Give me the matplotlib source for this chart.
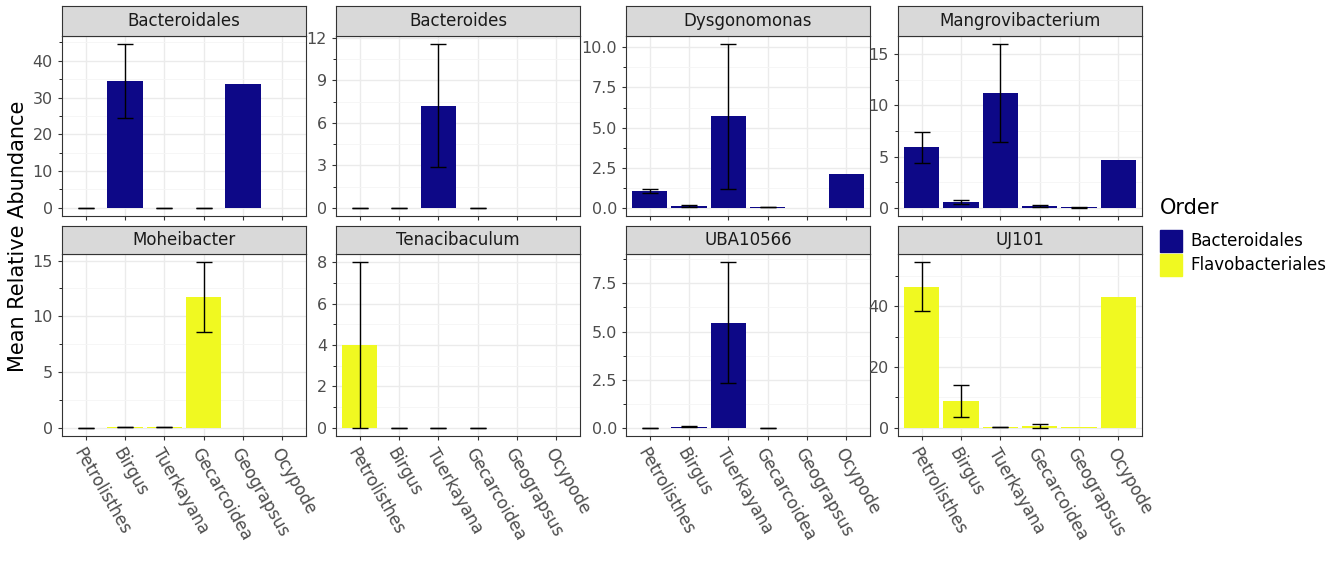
import matplotlib
matplotlib.use("Agg")
import matplotlib.pyplot as plt
from matplotlib.patches import Rectangle
from matplotlib.ticker import MultipleLocator
import numpy as np

categories = ["Petrolisthes", "Birgus", "Tuerkayana", "Gecarcoidea", "Geograpsus", "Ocypode"]
nan = np.nan
panels = ["Bacteroidales", "Bacteroides", "Dysgonomonas", "Mangrovibacterium",
          "Moheibacter", "Tenacibaculum", "UBA10566", "UJ101"]
order = ["Bacteroidales", "Bacteroidales", "Bacteroidales", "Bacteroidales",
         "Flavobacteriales", "Flavobacteriales", "Bacteroidales", "Flavobacteriales"]
means = [
    [0, 34.5, 0, 0, 33.8, nan],
    [0, 0, 7.2, 0, nan, nan],
    [1.05, 0.1, 5.7, 0.05, nan, 2.1],
    [5.9, 0.6, 11.2, 0.2, 0.05, 4.7],
    [0, 0.05, 0.05, 11.7, nan, nan],
    [4.0, 0, 0, 0, nan, nan],
    [0, 0.05, 5.45, 0, nan, nan],
    [46.5, 8.8, 0.3, 0.6, 0.3, 43.0],
]
errs = [
    [0, 10.0, 0, 0, nan, nan],
    [0, 0, 4.35, 0, nan, nan],
    [0.15, 0.05, 4.5, 0.03, nan, nan],
    [1.5, 0.2, 4.75, 0.1, 0.02, nan],
    [0, 0.02, 0.02, 3.15, nan, nan],
    [4.0, 0, 0, 0, nan, nan],
    [0, 0.02, 3.15, 0, nan, nan],
    [8.0, 5.4, 0.1, 0.6, nan, nan],
]
steps = [10, 3, 2.5, 5, 5, 2, 2.5, 20]
colors = {"Bacteroidales": "#0D0887", "Flavobacteriales": "#F0F921"}

W, H = 1344, 576
fig = plt.figure(figsize=(W / 100, H / 100), dpi=100)
lefts = [62, 336, 626, 898]
width = 244
rows = [(36, 216, 6), (254, 436, 226)]

x = np.arange(len(categories))
for i, name in enumerate(panels):
    r, c = divmod(i, 4)
    top, bot, stop = rows[r]
    ax = fig.add_axes([lefts[c] / W, 1 - bot / H, width / W, (bot - top) / H])
    m = np.array(means[i], float)
    e = np.array(errs[i], float)
    ax.bar(x, np.nan_to_num(m), width=0.9, color=colors[order[i]],
           alpha=np.where(np.isnan(m), 0, 1) if False else 1)
    ok = ~np.isnan(e)
    ax.errorbar(x[ok], m[ok], yerr=e[ok], fmt="none", ecolor="black",
                elinewidth=1, capsize=6, capthick=1)
    ymax = np.nanmax(np.concatenate([m, m + np.nan_to_num(e)]))
    ax.set_ylim(-ymax * 0.05, ymax * 1.05)
    ax.set_xlim(-0.6, 5.6)
    ax.yaxis.set_major_locator(MultipleLocator(steps[i]))
    ax.yaxis.set_minor_locator(MultipleLocator(steps[i] / 2))
    ax.set_xticks(x)
    ax.set_axisbelow(True)
    ax.grid(True, which="major", color="#EBEBEB", linewidth=1)
    ax.grid(True, which="minor", axis="y", color="#F5F5F5", linewidth=0.6)
    for s in ax.spines.values():
        s.set_color("#333333"); s.set_linewidth(0.8)
    ax.tick_params(axis="both", colors="#333333", labelsize=11.5, length=3,
                   labelcolor="#4D4D4D")
    if steps[i] == 2.5:
        ax.yaxis.set_major_formatter(plt.FuncFormatter(lambda v, p: f"{v:.1f}"))
    if r == 1:
        ax.set_xticklabels(categories, rotation=-60, ha="left",
                           rotation_mode="anchor", fontsize=12)
    else:
        ax.set_xticklabels([])
    sax = fig.add_axes([lefts[c] / W, 1 - top / H, width / W, (top - stop) / H])
    sax.set_xticks([]); sax.set_yticks([])
    sax.set_facecolor("#D9D9D9")
    for s in sax.spines.values():
        s.set_color("#333333"); s.set_linewidth(0.8)
    sax.text(0.5, 0.5, name, ha="center", va="center", fontsize=12,
             color="#1A1A1A", transform=sax.transAxes)

fig.text(18 / W, 1 - 236 / H, "Mean Relative Abundance", rotation=90,
         ha="center", va="center", fontsize=15)
fig.text(1160 / W, 1 - 208 / H, "Order", fontsize=15, va="center")
for k, (lab, col) in enumerate(colors.items()):
    yc = 241 + k * 24
    fig.patches.append(Rectangle((1160 / W, 1 - (yc + 11) / H), 22 / W, 22 / H,
                                 transform=fig.transFigure, color=col))
    fig.text(1190 / W, 1 - yc / H, lab, fontsize=12, va="center")

fig.savefig("out.png", dpi=100)
